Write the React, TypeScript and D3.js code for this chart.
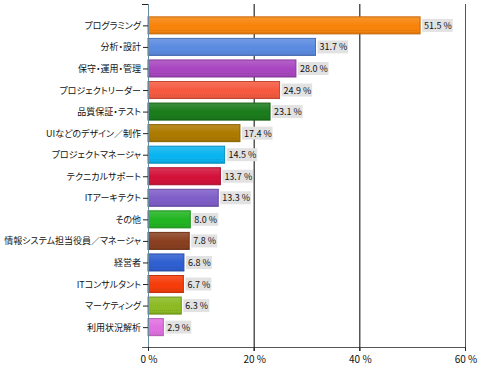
import React from 'react'
import * as d3 from 'd3'

const categories = [
  'プログラミング', '分析・設計', '保守・運用・管理', 'プロジェクトリーダー', '品質保証・テスト',
  'UIなどのデザイン／制作', 'プロジェクトマネージャ', 'テクニカルサポート', 'ITアーキテクト', 'その他',
  '情報システム担当役員／マネージャ', '経営者', 'ITコンサルタント', 'マーケティング', '利用状況解析',
]
const values = [51.5, 31.7, 28.0, 24.9, 23.1, 17.4, 14.5, 13.7, 13.3, 8.0, 7.8, 6.8, 6.7, 6.3, 2.9]
const colors = [
  '#f7830a', '#5b8be0', '#a846c0', '#f55a40', '#1b7c1b',
  '#ad7a00', '#0ab4f0', '#d3123a', '#7f5ec8', '#22b522',
  '#8a4020', '#2f5fd0', '#f53c0a', '#8cba22', '#e070e0',
]
const xTicks = [0, 20, 40, 60]

export default function App() {
  const layout = { width: 480, height: 369, left: 148, right: 465, top: 4, bottom: 347 }

  const x = d3.scaleLinear().domain([0, 60]).range([layout.left, layout.right])
  const y = d3.scaleBand<string>()
    .domain(categories)
    .range([14.7, 337.8])
    .paddingInner(0.21)
    .paddingOuter(0.1)

  const font = '"Noto Sans CJK JP", "Noto Sans", sans-serif'

  return (
    <svg width={layout.width} height={layout.height}
      style={{ position: 'absolute', left: 0, top: 0, background: '#fff' }}>
      <defs>
        {colors.map((c, i) => {
          const light = d3.interpolateRgb(c, '#ffffff')(0.15)
          const dark = d3.interpolateRgb(c, '#000000')(0.15)
          return (
            <linearGradient key={i} id={'g' + i} x1="0" y1="0" x2="0" y2="1">
              <stop offset="0%" stopColor={light} />
              <stop offset="50%" stopColor={c} />
              <stop offset="85%" stopColor={c} />
              <stop offset="100%" stopColor={dark} />
            </linearGradient>
          )
        })}
      </defs>

      {/* grid lines */}
      {xTicks.slice(1).map(t => (
        <line key={t} x1={x(t) + 0.5} x2={x(t) + 0.5} y1={layout.top} y2={layout.bottom + 4}
          stroke={t === 60 ? '#555' : '#000'} strokeWidth={1} />
      ))}

      {/* bars */}
      {categories.map((c, i) => {
        const y0 = y(c)!
        const h = y.bandwidth()
        const w = x(values[i]) - x(0)
        const dark = d3.interpolateRgb(colors[i], '#000000')(0.2)
        const label = values[i].toFixed(1) + ' %'
        return (
          <g key={c}>
            <rect x={x(0)} y={y0} width={w} height={h} fill={`url(#g${i})`}
              stroke={dark} strokeWidth={1} />
            <line x1={x(0) + 2} x2={x(0) + w - 2} y1={y0 + h - 3.5} y2={y0 + h - 3.5}
              stroke={dark} strokeWidth={1} strokeDasharray="1,1" opacity={0.6} />
            <rect x={x(values[i]) + 2} y={y0 + h / 2 - 6.5} width={label.length * 4.6 + 3} height={13}
              fill="#e2e2e2" />
            <text x={x(values[i]) + 4} y={y0 + h / 2 + 3.5} fontSize={9} fontFamily={font}
              fill="#111">{label}</text>
          </g>
        )
      })}

      {/* y axis */}
      <line x1={layout.left + 0.5} x2={layout.left + 0.5} y1={layout.top} y2={layout.bottom + 4}
        stroke="#6a8aa0" strokeWidth={1} />
      <line x1={layout.left - 6} x2={layout.left} y1={layout.top + 0.5} y2={layout.top + 0.5} stroke="#222" />
      {categories.map(c => {
        const cy = y(c)! + y.bandwidth() / 2
        return (
          <g key={c}>
            <line x1={layout.left - 5} x2={layout.left} y1={cy + 0.5} y2={cy + 0.5} stroke="#222" />
            <text x={layout.left - 7} y={cy + 3.5} textAnchor="end" fontSize={9} fontFamily={font}
              style={{ fontFeatureSettings: '"palt"' }} fill="#111">{c}</text>
          </g>
        )
      })}

      {/* x axis */}
      <line x1={layout.left - 6} x2={layout.right + 1} y1={layout.bottom + 0.5} y2={layout.bottom + 0.5}
        stroke="#555" />
      {xTicks.map(t => (
        <g key={t}>
          <line x1={x(t) + 0.5} x2={x(t) + 0.5} y1={layout.bottom} y2={layout.bottom + 4} stroke="#222" />
          <text x={x(t) + 1} y={layout.bottom + 16} textAnchor="middle" fontSize={10} fontFamily={font}
            fill="#111">{t} %</text>
        </g>
      ))}
    </svg>
  )
}
